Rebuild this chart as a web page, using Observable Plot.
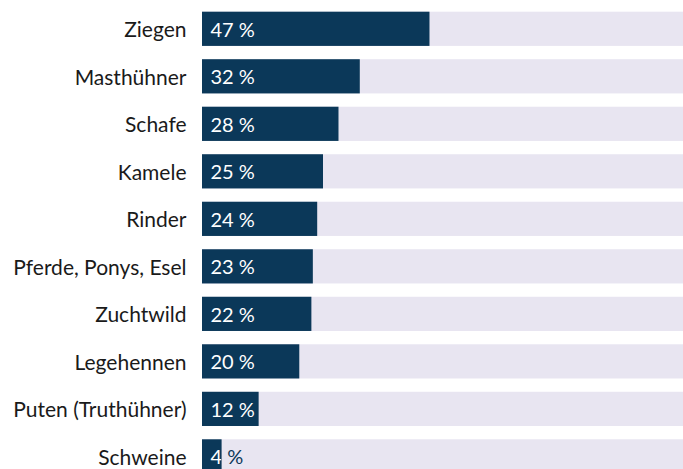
<!DOCTYPE html>
<html>
<head>
<meta charset="utf-8">
<script src="https://cdn.jsdelivr.net/npm/d3@7"></script>
<script src="https://cdn.jsdelivr.net/npm/@observablehq/plot@0.6"></script>
<style>
  html, body { margin: 0; padding: 0; background: #fff; overflow: hidden; }
  #chart svg { display: block; }
</style>
</head>
<body>
<div id="chart"></div>
<script>
const categories = ["Ziegen", "Masthühner", "Schafe", "Kamele", "Rinder", "Pferde, Ponys, Esel", "Zuchtwild", "Legehennen", "Puten (Truthühner)", "Schweine"];
const values = [47.0, 32.6, 28.2, 25.0, 23.8, 22.9, 22.6, 20.1, 11.7, 4.05];
const valueLabels = ["47 %", "32 %", "28 %", "25 %", "24 %", "23 %", "22 %", "20 %", "12 %", "4 %"];
const fullValue = 100;

const data = categories.map((c, i) => ({cat: c, value: values[i], label: valueLabels[i], full: fullValue}));

const navy = "#0b3859";
const lavender = "#e8e5f1";
const textDark = "#1a1a1a";
const fontFamily = "Lato, 'Noto Sans', sans-serif";

const chart = Plot.plot({
  width: 683,
  height: 469,
  marginLeft: 202,
  marginRight: 0,
  marginTop: 0,
  marginBottom: 0,
  style: {fontFamily, fontSize: "20px", color: textDark, background: "#fff"},
  x: {domain: [0, 100], range: [202, 686], axis: null},
  y: {domain: categories, range: [11.7, 473.5], paddingInner: 0.28, paddingOuter: 0, round: false, label: null},
  marks: [
    Plot.barX(data, {x: "full", y: "cat", fill: lavender}),
    Plot.barX(data, {x: "value", y: "cat", fill: navy}),
    Plot.text(data, {x: 0, y: "cat", text: "label", textAnchor: "start", dx: 8, dy: 1, fontSize: 20, fill: navy}),
    Plot.text(data, {x: 0, y: "cat", text: "label", textAnchor: "start", dx: 8, dy: 1, fontSize: 20, fill: "white"}),
    Plot.axisY({tickSize: 0, tickPadding: 16, fontSize: 21, dy: 1, fill: textDark, label: null})
  ]
});

// Clip the white labels to the navy bars so each label switches colour at the bar edge.
const svgEl = chart.tagName.toLowerCase() === "svg" ? chart : chart.querySelector("svg");
const groups = Array.from(svgEl.children).filter(el => el.tagName.toLowerCase() === "g");
const barGroups = groups.filter(g => g.getAttribute("aria-label") === "bar");
const textGroups = groups.filter(g => g.getAttribute("aria-label") === "text");
if (barGroups.length >= 2 && textGroups.length >= 2) {
  const ns = "http://www.w3.org/2000/svg";
  const defs = document.createElementNS(ns, "defs");
  const clip = document.createElementNS(ns, "clipPath");
  clip.setAttribute("id", "navy-bar-clip");
  const barTransform = barGroups[1].getAttribute("transform");
  barGroups[1].querySelectorAll("rect").forEach(r => {
    const c = r.cloneNode(true);
    if (barTransform) c.setAttribute("transform", barTransform);
    clip.appendChild(c);
  });
  defs.appendChild(clip);
  svgEl.insertBefore(defs, svgEl.firstChild);
  const whiteGroup = textGroups[1];
  const wrapper = document.createElementNS(ns, "g");
  wrapper.setAttribute("clip-path", "url(#navy-bar-clip)");
  whiteGroup.parentNode.insertBefore(wrapper, whiteGroup);
  wrapper.appendChild(whiteGroup);
}

document.getElementById("chart").append(chart);
</script>
</body>
</html>
